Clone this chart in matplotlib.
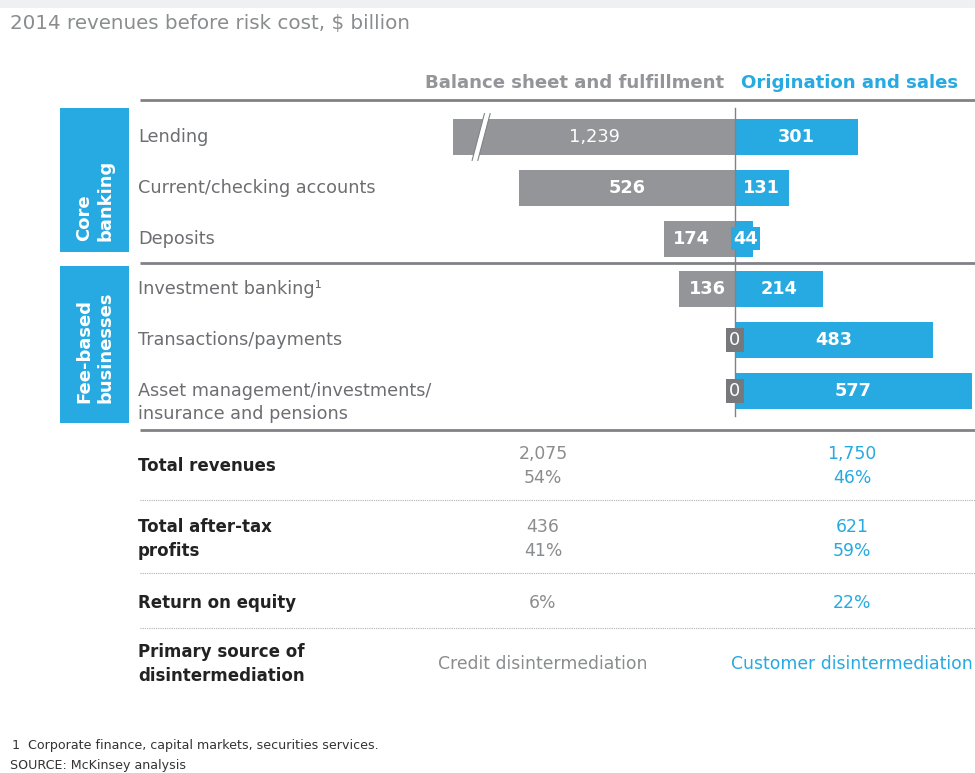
import matplotlib
matplotlib.use("Agg")
import matplotlib.pyplot as plt
from matplotlib.patches import Rectangle, Polygon

plt.rcParams['font.family'] = ['DejaVu Sans']

# ---------------- data ----------------
categories = ["Lending", "Current/checking accounts", "Deposits",
              "Investment banking\u00b9", "Transactions/payments",
              "Asset management/investments/\ninsurance and pensions"]
balance_sheet = [1239, 526, 174, 136, 0, 0]
origination = [301, 131, 44, 214, 483, 577]
groups = ["Core\nbanking", "Fee-based\nbusinesses"]
group_sizes = [3, 3]
header_left = "Balance sheet and fulfillment"
header_right = "Origination and sales"
summary_labels = ["Total revenues", "Total after-tax\nprofits",
                  "Return on equity", "Primary source of\ndisintermediation"]
summary_balance = ["2,075\n54%", "436\n41%", "6%", "Credit disintermediation"]
summary_origination = ["1,750\n46%", "621\n59%", "22%", "Customer disintermediation"]
title = "2014 revenues before risk cost, $ billion"
footnotes = ["1  Corporate finance, capital markets, securities services.",
             "SOURCE: McKinsey analysis"]

# ---------------- style ----------------
BLUE = "#27a9e1"
GRAY = "#939598"
DGRAY = "#77787b"
TXT = "#6d6e71"
LINE = "#808285"
W, H = 975, 773
DISPLAY_CAP = 688  # bars longer than this are drawn broken

fig = plt.figure(figsize=(W / 100, H / 100), dpi=100)
ax0 = fig.add_axes([0, 0, 1, 1])
ax0.set_xlim(0, W)
ax0.set_ylim(H, 0)
ax0.axis("off")


def lines_text(x, yc, s, gap, **kw):
    parts = s.split("\n")
    n = len(parts)
    for k, p in enumerate(parts):
        ax0.text(x, yc + (k - (n - 1) / 2) * gap, p, va="center", **kw)


# top band
ax0.add_patch(Rectangle((0, 0), W, 8, color="#eff0f2", lw=0))
ax0.text(10, 24, title, fontsize=14.3, color="#8a8c8e", va="center", ha="left")

# headers
ax0.text(724, 83, header_left, fontsize=13.1, fontweight="bold", color=GRAY,
         ha="right", va="center")
ax0.text(741, 83, header_right, fontsize=13.1, fontweight="bold", color=BLUE,
         ha="left", va="center")

# separators
for yy in (100, 263, 430):
    ax0.plot([140, W], [yy, yy], color=LINE, lw=2, solid_capstyle="butt")

# group boxes
box_spans = [(108, 252), (266, 423)]
text_centres = [200, 347]
for g, (y0, y1), tc in zip(groups, box_spans, text_centres):
    ax0.add_patch(Rectangle((60, y0), 69, y1 - y0, color=BLUE, lw=0))
    ax0.text(95, tc, g, rotation=90, color="white", fontsize=13,
             fontweight="bold", ha="center", va="center", linespacing=1.25,
             multialignment="left")

# ---------------- bars ----------------
scale = 0.41  # px per unit
center_px = 735
ax = fig.add_axes([140 / W, 1 - 430 / H, (W - 140) / W, 330 / H])
ax.set_xlim((140 - center_px) / scale, (W - center_px) / scale)
row0, step = 137, 50.8
ax.set_ylim((430 - row0) / step, (100 - row0) / step)
ax.axis("off")
ax.patch.set_alpha(0)

ys = list(range(len(categories)))
disp_left = [min(v, DISPLAY_CAP) for v in balance_sheet]
bh = 0.71
ax.barh(ys, [-v for v in disp_left], height=bh, color=GRAY, lw=0, zorder=2)
ax.barh(ys, origination, height=bh, color=BLUE, lw=0, zorder=2)
ax.plot([0, 0], [-0.57, 5.5], color=LINE, lw=1, zorder=3)

for y, v, d in zip(ys, balance_sheet, disp_left):
    if v >= 100:
        xoff = -20 if y == 2 else 0
        ax.text(-d / 2 + xoff, y, f"{v:,}", color="white", fontsize=12.8,
                fontweight="normal" if v > DISPLAY_CAP else "bold",
                ha="center", va="center", zorder=5)
    else:
        ax.text(-d / 2, y, f"{v:,}", color="white", fontsize=12.8,
                ha="center", va="center", zorder=6,
                bbox=dict(boxstyle="square,pad=0.17", fc=DGRAY, ec="none"))
    if v > DISPLAY_CAP:
        # break marker
        xb = -DISPLAY_CAP + 0.1 * DISPLAY_CAP
        dx = 14
        top, bot = -0.46, 0.46
        sl = 30
        poly = Polygon([(xb - dx / 2 + sl / 2, top), (xb + dx / 2 + sl / 2, top),
                        (xb + dx / 2 - sl / 2, bot), (xb - dx / 2 - sl / 2, bot)],
                       closed=True, fc="white", ec="none", zorder=4)
        ax.add_patch(poly)
        for s in (-dx / 2, dx / 2):
            ax.plot([xb + s + sl / 2, xb + s - sl / 2], [top, bot], color=LINE,
                    lw=0.8, zorder=4)

for y, v in zip(ys, origination):
    if v >= 100:
        ax.text(v / 2, y, f"{v:,}", color="white", fontsize=12.8, fontweight="bold",
                ha="center", va="center", zorder=5)
    else:
        ax.text(v / 2 + 3, y, f"{v:,}", color="white", fontsize=12.8, fontweight="bold",
                ha="center", va="center", zorder=6,
                bbox=dict(boxstyle="square,pad=0.12", fc=BLUE, ec="none"))

# category labels (first line on the bar centre)
for y, c in zip(ys, categories):
    for k, p in enumerate(c.split("\n")):
        ax0.text(138, row0 + step * y + 23 * k, p, fontsize=12.7, color=TXT,
                 ha="left", va="center")

# ---------------- summary table ----------------
row_y = [466, 539, 603, 664]
for i, (lab, lv, rv) in enumerate(zip(summary_labels, summary_balance, summary_origination)):
    y = row_y[i]
    lines_text(138, y, lab, 24.5, fontsize=12.0, fontweight="bold",
               color="#222222", ha="left")
    lines_text(543, y, lv, 24.5, fontsize=12.4, color="#8a8c8e", ha="center")
    lines_text(852, y, rv, 24.5, fontsize=12.4, color=BLUE, ha="center")

for yy in (500, 573, 628):
    ax0.plot([140, W], [yy, yy], color="#b0b0b0", lw=0.8, ls=(0, (1, 1)))

# footnotes
ax0.text(12, 745, footnotes[0], fontsize=9.1, color="#333333", va="center")
ax0.text(10, 765, footnotes[1], fontsize=9.1, color="#333333", va="center")

fig.savefig("out.png", dpi=100)
